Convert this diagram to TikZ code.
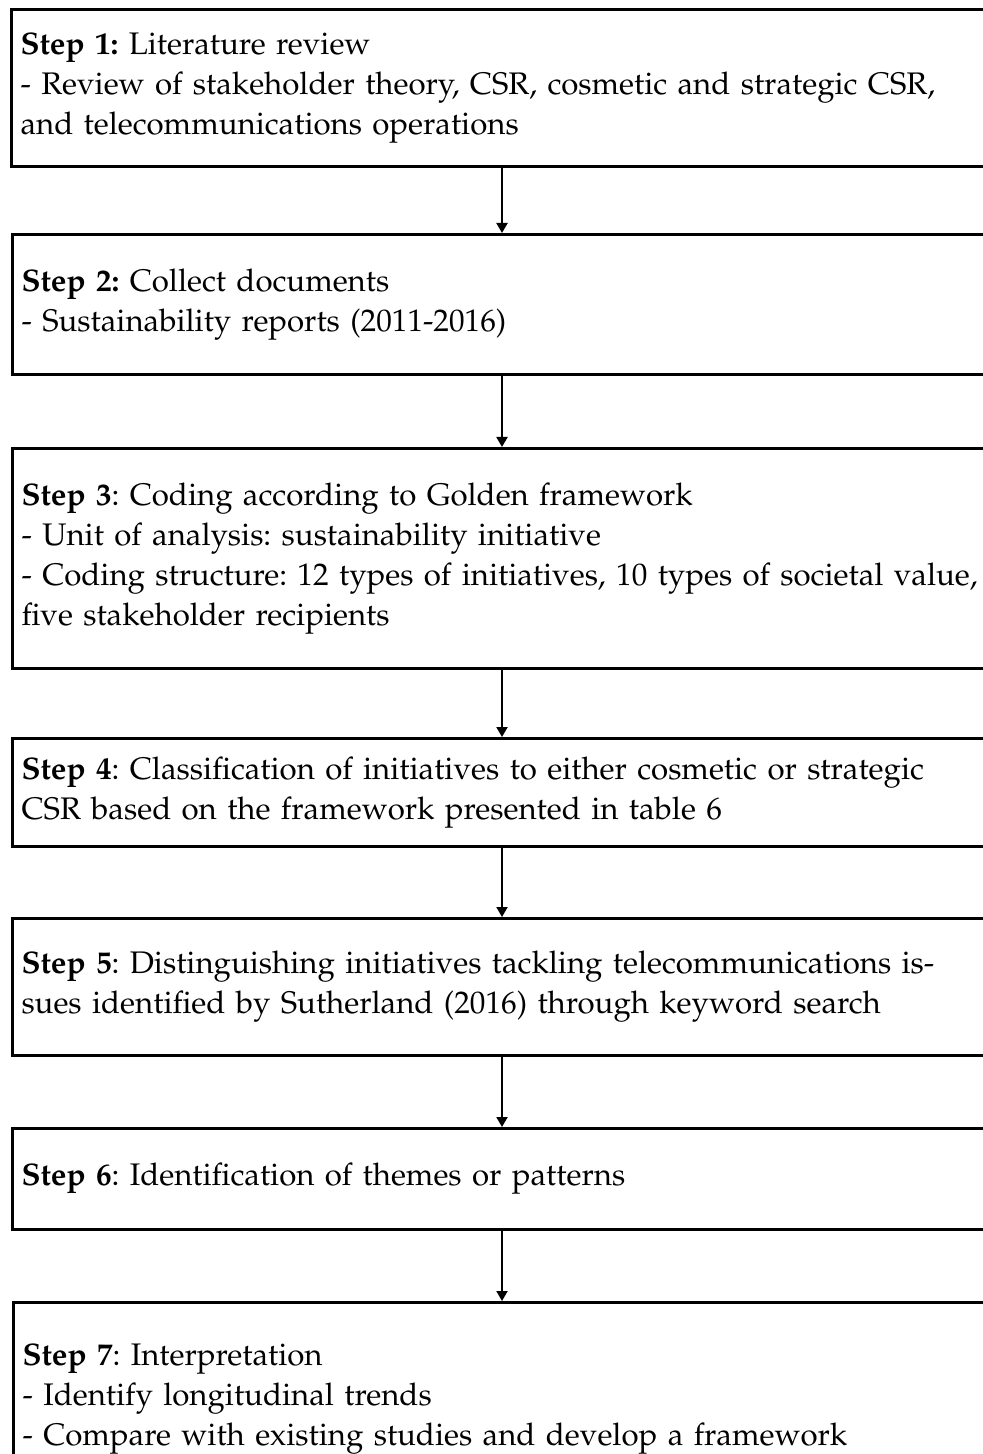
\documentclass[tikz,border=0pt]{standalone}
\IfFileExists{mathpazo.sty}{%
  \usepackage[T1]{fontenc}\usepackage{mathpazo}}{%
  \usepackage{fontspec}\setmainfont{Liberation Serif}}
\usetikzlibrary{arrows.meta}

\tikzset{
  stepbox/.style={draw, line width=1.5pt, anchor=north west, minimum width=495pt,
    inner xsep=1.8pt, text width=486pt, align=left,
    font=\fontsize{15.6}{20}\selectfont\frenchspacing},
  flow/.style={line width=1pt, -{Triangle[width=5.5pt,length=5pt]}}
}

\begin{document}
\begin{tikzpicture}[x=0.5pt,y=-0.5pt]
  \useasboundingbox (0,0) rectangle (983,1454);
  \clip (0,0) rectangle (983,1454);

  % the seven steps, one box each
  \node[stepbox, minimum height=78.5pt] (s1) at (10,8)
    {\textbf{Step 1:} Literature review\\
     - Review of stakeholder theory, CSR, cosmetic and strategic CSR,\\
     and telecommunications operations};
  \node[stepbox, minimum height=70pt] (s2) at (11,233)
    {\textbf{Step 2:} Collect documents\\
     - Sustainability reports (2011-2016)};
  \node[stepbox, minimum height=110pt] (s3) at (11,447)
    {\textbf{Step 3}: Coding according to Golden framework\\
     - Unit of analysis: sustainability initiative\\
     - Coding structure: 12 types of initiatives, 10 types of societal value,\\
     five stakeholder recipients};
  \node[stepbox, minimum height=54pt] (s4) at (11,737)
    {\textbf{Step 4}: Classification of initiatives to either cosmetic or strategic\\
     CSR based on the framework presented in table 6};
  \node[stepbox, minimum height=68.5pt] (s5) at (11,917)
    {\textbf{Step 5}: Distinguishing initiatives tackling telecommunications is-\\
     sues identified by Sutherland (2016) through keyword search};
  \node[stepbox, minimum height=50.5pt] (s6) at (11,1127)
    {\textbf{Step 6}: Identification of themes or patterns};
  \node[stepbox, minimum height=96pt] (s7) at (12,1301)
    {\textbf{Step 7}: Interpretation\\
     - Identify longitudinal trends\\
     - Compare with existing studies and develop a framework};

  % connectors share one vertical axis
  \coordinate (ax) at (502,0);
  \draw[flow] (s1.south -| ax) -- (s2.north -| ax);
  \draw[flow] (s2.south -| ax) -- (s3.north -| ax);
  \draw[flow] (s3.south -| ax) -- (s4.north -| ax);
  \draw[flow] (s4.south -| ax) -- (s5.north -| ax);
  \draw[flow] (s5.south -| ax) -- (s6.north -| ax);
  \draw[flow] (s6.south -| ax) -- (s7.north -| ax);
\end{tikzpicture}
\end{document}
